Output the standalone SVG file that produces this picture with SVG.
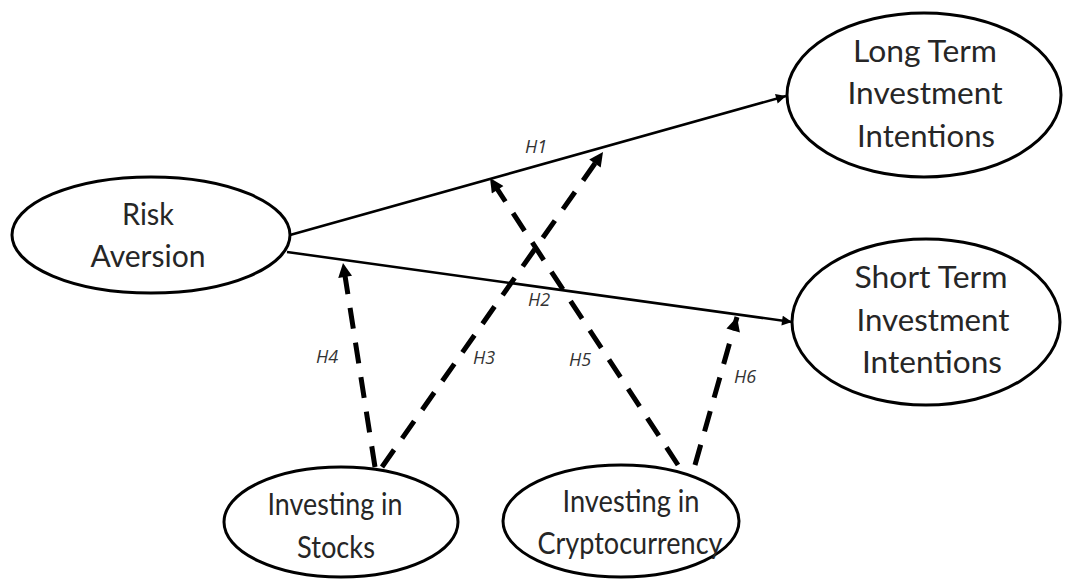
<svg xmlns="http://www.w3.org/2000/svg" width="1065" height="581" viewBox="0 0 1065 581">
<defs>
<style>
.node ellipse{fill:#fff;stroke:#000;stroke-width:3}
.node text{font-family:Lato,"Open Sans",sans-serif;font-size:31px;fill:#262626;text-anchor:middle}
.solid{stroke:#000;stroke-width:2.5;fill:none}
.dash{stroke:#000;stroke-width:5;fill:none;stroke-dasharray:21 14}
.lbl{font-family:"Open Sans",Lato,sans-serif;font-style:italic;font-size:18px;fill:#333;text-anchor:middle}
</style>
<marker id="sa" viewBox="0 0 10 10" refX="10" refY="5" markerWidth="4.5" markerHeight="4" orient="auto" markerUnits="strokeWidth">
<path d="M0,0 L10,5 L0,10 Z" fill="#000"/>
</marker>
<marker id="da" viewBox="0 0 10 10" refX="10" refY="5" markerWidth="3.2" markerHeight="2.8" orient="auto" markerUnits="strokeWidth">
<path d="M0,0 L10,5 L0,10 Z" fill="#000"/>
</marker>
</defs>
<rect width="1065" height="581" fill="#fff"/>
<g id="connectors">
<line class="solid" x1="290" y1="235" x2="786" y2="96" marker-end="url(#sa)"/>
<line class="solid" x1="287" y1="252" x2="792" y2="322" marker-end="url(#sa)"/>
<line class="dash" x1="375" y1="467" x2="343" y2="263" marker-end="url(#da)"/>
<line class="dash" x1="382" y1="467" x2="603" y2="152" marker-end="url(#da)"/>
<line class="dash" x1="678" y1="465" x2="490" y2="178" marker-end="url(#da)"/>
<line class="dash" x1="695" y1="465" x2="737" y2="317" marker-end="url(#da)"/>
<text class="lbl" x="536" y="153">H1</text>
<text class="lbl" x="539" y="306">H2</text>
<text class="lbl" x="327" y="363">H4</text>
<text class="lbl" x="484" y="364">H3</text>
<text class="lbl" x="580" y="366">H5</text>
<text class="lbl" x="745" y="383">H6</text>
</g>
<g id="risk" class="node">
<ellipse cx="151" cy="235" rx="139" ry="58"/>
<text x="148" y="225" textLength="52" lengthAdjust="spacingAndGlyphs">Risk</text>
<text x="148" y="267" textLength="115" lengthAdjust="spacingAndGlyphs">Aversion</text>
</g>
<g id="longterm" class="node">
<ellipse cx="924" cy="95" rx="137" ry="82"/>
<text x="925" y="62" textLength="144" lengthAdjust="spacingAndGlyphs">Long Term</text>
<text x="925" y="104" textLength="155" lengthAdjust="spacingAndGlyphs">Investment</text>
<text x="926" y="147" textLength="138" lengthAdjust="spacingAndGlyphs">Intentions</text>
</g>
<g id="shortterm" class="node">
<ellipse cx="926" cy="322" rx="134" ry="83"/>
<text x="931" y="288" textLength="153" lengthAdjust="spacingAndGlyphs">Short Term</text>
<text x="933" y="331" textLength="153" lengthAdjust="spacingAndGlyphs">Investment</text>
<text x="932" y="373" textLength="140" lengthAdjust="spacingAndGlyphs">Intentions</text>
</g>
<g id="stocks" class="node">
<ellipse cx="341" cy="522" rx="117" ry="55"/>
<text x="335" y="515" textLength="135" lengthAdjust="spacingAndGlyphs">Investing in</text>
<text x="336" y="558" textLength="78" lengthAdjust="spacingAndGlyphs">Stocks</text>
</g>
<g id="crypto" class="node">
<ellipse cx="621" cy="521" rx="118" ry="56"/>
<text x="631" y="512" textLength="137" lengthAdjust="spacingAndGlyphs">Investing in</text>
<text x="630" y="554" textLength="185" lengthAdjust="spacingAndGlyphs">Cryptocurrency</text>
</g>
</svg>
